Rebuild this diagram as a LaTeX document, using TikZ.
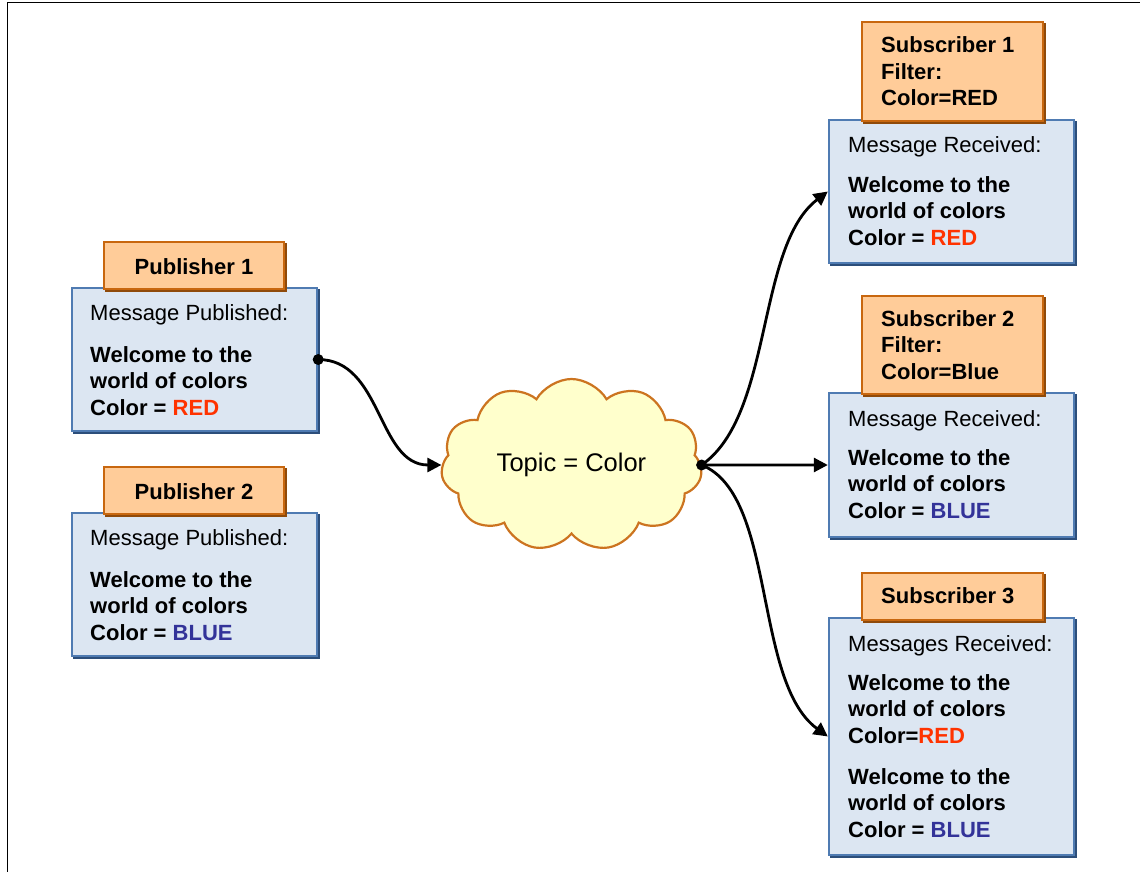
\documentclass[tikz,border=0pt]{standalone}
\usepackage{fontspec}
\setmainfont{Liberation Sans}
\usetikzlibrary{arrows.meta,shapes.symbols,shadows,calc}

\definecolor{hdrfill}{HTML}{FFCC99}
\definecolor{hdrline}{HTML}{C8670F}
\definecolor{hdrshade}{HTML}{8F4A0A}
\definecolor{boxfill}{HTML}{DCE6F2}
\definecolor{boxline}{HTML}{4F7BB2}
\definecolor{boxshade}{HTML}{2C4E7A}
\definecolor{cloudfill}{HTML}{FFFFCC}
\definecolor{cloudline}{HTML}{CC7420}
\definecolor{msgred}{HTML}{FF3300}
\definecolor{msgblue}{HTML}{333399}

% multi-line text nodes are placed by the baseline of their last line
\tikzset{
  msgbox/.style={draw=boxline, fill=boxfill, line width=2.4pt, inner sep=0pt,
    copy shadow={shadow xshift=1.8pt, shadow yshift=-1.8pt, draw=boxshade, fill=boxshade, line width=2.4pt}},
  hdrbox/.style={draw=hdrline, fill=hdrfill, line width=2.4pt, inner sep=0pt,
    copy shadow={shadow xshift=1.8pt, shadow yshift=-1.8pt, draw=hdrshade, fill=hdrshade, line width=2.4pt}},
  plain/.style={inner sep=0pt, anchor=base west, font=\fontsize{22}{27}\selectfont},
  strong/.style={inner sep=0pt, anchor=base west, align=left, font=\fontsize{22}{26.5}\selectfont\bfseries},
  titletext/.style={inner sep=0pt, anchor=base, font=\fontsize{22}{27}\selectfont\bfseries},
  link/.style={line width=2.8pt, -{Triangle[length=14pt,width=14pt]}},
}

\begin{document}
\begin{tikzpicture}[x=1pt,y=-1pt]
\useasboundingbox (0,0) rectangle (1140,872);

% page frame (top and left edges)
\coordinate (frameA) at (7.5,872);
\coordinate (frameB) at (7.5,2.5);
\coordinate (frameC) at (1140,2.5);
\draw[line width=1.5pt] (frameA) -- (frameB) -- (frameC);

% publishers
\node[msgbox, minimum width=245, minimum height=143] (p1) at (194.5,359.5) {};
\node[hdrbox, minimum width=180, minimum height=47] (p1h) at (194,265.5) {};
\node[titletext] (p1t) at (194,274) {Publisher 1};
\node[plain] (p1m) at (90,320) {Message Published:};
\node[strong] (p1b) at (90,415) {Welcome to the\\world of colors\\Color = \textcolor{msgred}{RED}};

\node[msgbox, minimum width=245, minimum height=143] (p2) at (194.5,584.5) {};
\node[hdrbox, minimum width=180, minimum height=47] (p2h) at (194,490.5) {};
\node[titletext] (p2t) at (194,499) {Publisher 2};
\node[plain] (p2m) at (90,545) {Message Published:};
\node[strong] (p2b) at (90,640) {Welcome to the\\world of colors\\Color = \textcolor{msgblue}{BLUE}};

% subscribers
\node[msgbox, minimum width=245, minimum height=143] (s1) at (951.5,191.5) {};
\node[hdrbox, minimum width=181, minimum height=99] (s1h) at (952.5,71.5) {};
\node[strong] (s1t) at (881,106) {Subscriber 1\\Filter:\\Color=RED};
\node[plain] (s1m) at (848,153) {Message Received:};
\node[strong] (s1b) at (848,245) {Welcome to the\\world of colors\\Color = \textcolor{msgred}{RED}};

\node[msgbox, minimum width=245, minimum height=144] (s2) at (951.5,465) {};
\node[hdrbox, minimum width=181, minimum height=98] (s2h) at (952.5,345) {};
\node[strong] (s2t) at (881,379) {Subscriber 2\\Filter:\\Color=Blue};
\node[plain] (s2m) at (848,426) {Message Received:};
\node[strong] (s2b) at (848,518) {Welcome to the\\world of colors\\Color = \textcolor{msgblue}{BLUE}};

\node[msgbox, minimum width=245, minimum height=237] (s3) at (951.5,736.5) {};
\node[hdrbox, minimum width=181, minimum height=47] (s3h) at (952.5,596.5) {};
\node[titletext, anchor=base west] (s3t) at (881,603) {Subscriber 3};
\node[plain] (s3m) at (848,651) {Messages Received:};
\node[strong] (s3b) at (848,743) {Welcome to the\\world of colors\\Color=\textcolor{msgred}{RED}};
\node[strong] (s3c) at (848,837) {Welcome to the\\world of colors\\Color = \textcolor{msgblue}{BLUE}};

% topic cloud
\node[cloud, cloud puffs=11, cloud puff arc=120, aspect=1.55,
      draw=cloudline, fill=cloudfill, line width=2.2pt,
      minimum width=261, minimum height=172, inner sep=0pt,
      font=\fontsize{25.5}{30}\selectfont] (topic) at (571.5,465) {Topic = Color};

% connectors
\draw[link] (p1.east) .. controls ($(p1.east)+(64,0)$) and ($(topic.west)+(-64,0)$) .. (topic.west);
\draw[link] (topic.east) .. controls ($(topic.east)+(72,-50)$) and ($(s1.west)+(-72,55)$) .. (s1.west);
\draw[link] (topic.east) -- (s2.west);
\draw[link] (topic.east) .. controls ($(topic.east)+(75,30)$) and ($(s3.west)+(-75,-55)$) .. (s3.west);
\fill (p1.east) circle (5.5);
\fill (topic.east) circle (5.5);
\end{tikzpicture}
\end{document}
